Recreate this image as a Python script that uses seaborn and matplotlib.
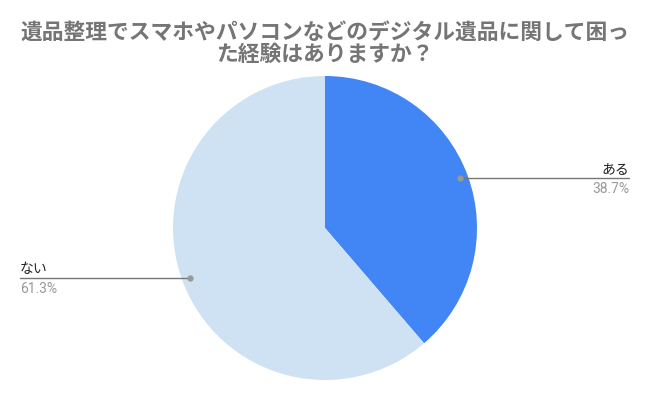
import numpy as np
import matplotlib
matplotlib.use("Agg")
import matplotlib.pyplot as plt
import seaborn as sns

title = "遺品整理でスマホやパソコンなどのデジタル遺品に関して困っ\nた経験はありますか？"
labels = ["ある", "ない"]
values = [38.7, 61.3]
colors = ["#4285F4", "#CFE2F3"]

sns.set_theme(style="white")
plt.rcParams['font.family'] = ['Noto Sans CJK JP', 'DejaVu Sans']

W, H = 650, 402
fig = plt.figure(figsize=(W / 100, H / 100), dpi=100)
ax = fig.add_axes([0, 0, 1, 1])

cx, cy, r = 325, H - 229, 152
wedges, _ = ax.pie(values, colors=colors, startangle=90, counterclock=False,
                   center=(cx, cy), radius=r, frame=True,
                   wedgeprops=dict(linewidth=0))
ax.set_xlim(0, W)
ax.set_ylim(0, H)
ax.set_aspect('equal')
ax.axis('off')

for w, lab, v in zip(wedges, labels, values):
    ang = np.deg2rad((w.theta1 + w.theta2) / 2)
    px = cx + 0.95 * r * np.cos(ang)
    py = cy + 0.95 * r * np.sin(ang)
    if np.cos(ang) >= 0:
        xend, ha = 629, 'right'
    else:
        xend, ha = 20, 'left'
    ax.plot([px, xend], [py, py], color="#777777", lw=1.0, zorder=3)
    ax.plot([px], [py], 'o', color="#999999", ms=3.5, zorder=4)
    ax.text(xend, py + 3, lab, ha=ha, va='bottom', fontsize=10, color="#222222")
    ax.text(xend, py - 3, f"{v}%", ha=ha, va='top', fontsize=10, color="#999999",
            family=['Roboto', 'DejaVu Sans'])

fig.text(0.5, 1 - 43.5 / H, title, ha='center', va='center', fontsize=15.7,
         fontweight='bold', color="#757575", linespacing=0.95)

fig.savefig("out.png", dpi=100, facecolor='white')
